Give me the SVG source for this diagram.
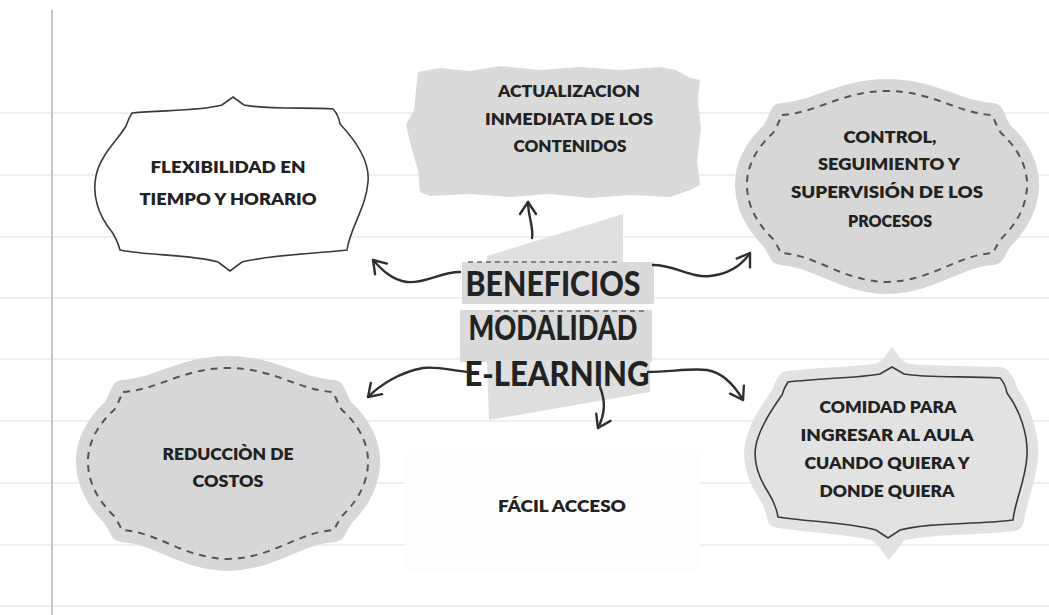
<svg xmlns="http://www.w3.org/2000/svg" xmlns:xlink="http://www.w3.org/1999/xlink" width="1049" height="615" viewBox="0 0 1049 615">
  <style>
    .rule { stroke: #efefef; stroke-width: 2; }
    .margin { stroke: #c4c4c4; stroke-width: 2; }
    .lbl { font-family: Lato, "Open Sans", "Liberation Sans", sans-serif; font-weight: 800; font-size: 16.5px; fill: #222; text-anchor: middle; }
    .title { font-family: Lato, "Open Sans", "Liberation Sans", sans-serif; font-weight: 900; font-size: 34px; fill: #222; text-anchor: middle; }
    .conn { fill: none; stroke: #2e2e2e; stroke-width: 2.4; stroke-linecap: round; stroke-linejoin: round; }
    .dash { fill: none; stroke: #555; stroke-width: 2; stroke-dasharray: 7 6; }
    .tape-dash { fill: none; stroke: #6a6a6a; stroke-width: 1.6; stroke-dasharray: 5 4; }
    .grayframe { fill: #d7d7d7; stroke: #d7d7d7; stroke-width: 24; stroke-linejoin: round; }
  </style>
  <defs>
    <path id="scallop" d="M -105,-72 C -70,-74 -45,-96 0,-96 C 45,-96 70,-74 105,-72 C 108,-66 110,-60 114,-54 C 132,-38 141,-18 140,0 C 139,22 128,38 114,52 C 110,58 108,62 106,66 C 70,68 45,94 0,95 C -45,94 -70,68 -106,66 C -108,62 -110,58 -114,52 C -128,38 -139,22 -140,0 C -141,-18 -132,-38 -114,-54 C -110,-60 -108,-66 -105,-72 Z"/>
    <marker id="head" markerUnits="userSpaceOnUse" markerWidth="20" markerHeight="20" viewBox="-14 -10 16 20" refX="0" refY="0" orient="auto">
      <path d="M -12,-8 L 0,0 L -12,8" fill="none" stroke="#2e2e2e" stroke-width="2.4" stroke-linecap="round" stroke-linejoin="round"/>
    </marker>
  </defs>

  <rect x="0" y="0" width="1049" height="615" fill="#ffffff"/>
  <g id="paper">
    <line class="rule" x1="0" y1="113" x2="1049" y2="113"/>
    <line class="rule" x1="0" y1="175" x2="1049" y2="175"/>
    <line class="rule" x1="0" y1="237" x2="1049" y2="237"/>
    <line class="rule" x1="0" y1="298" x2="1049" y2="298"/>
    <line class="rule" x1="0" y1="359" x2="1049" y2="359"/>
    <line class="rule" x1="0" y1="421" x2="1049" y2="421"/>
    <line class="rule" x1="0" y1="483" x2="1049" y2="483"/>
    <line class="rule" x1="0" y1="545" x2="1049" y2="545"/>
    <line class="rule" x1="0" y1="606" x2="1049" y2="606"/>
    <line class="margin" x1="52" y1="10" x2="52" y2="615"/>
  </g>

  <g id="node-flexibilidad">
    <path d="M132,113 C165,110 200,111 222,105 L233,97 L244,105 C270,110 305,107 333,109 C337,113 339,118 340,124 C357,142 370,162 368,182 C366,208 350,228 347,250 C315,254 275,254 242,262 L230,271 L218,262 C190,254 150,256 120,250 C118,243 116,238 112,232 C98,215 92,195 96,176 C100,155 118,140 126,126 C128,120 130,116 132,113 Z" fill="#ffffff" stroke="#3a3a3a" stroke-width="1.6"/>
    <text class="lbl" x="228" y="173" textLength="155" lengthAdjust="spacingAndGlyphs">FLEXIBILIDAD EN</text>
    <text class="lbl" x="228" y="205" textLength="177" lengthAdjust="spacingAndGlyphs">TIEMPO Y HORARIO</text>
  </g>

  <g id="node-actualizacion">
    <path d="M418,72 L440,68 L470,71 L500,66 L540,70 L580,67 L620,70 L660,67 L676,70 L690,78 L700,80 L698,100 L701,130 L697,160 L700,185 L690,190 L670,197 L630,195 L590,198 L550,194 L510,197 L470,194 L430,196 L420,192 L418,170 L412,150 L406,125 L414,110 L416,90 Z" fill="#dadada"/>
    <text class="lbl" x="569" y="97" textLength="142" lengthAdjust="spacingAndGlyphs">ACTUALIZACION</text>
    <text class="lbl" x="569" y="125" textLength="168" lengthAdjust="spacingAndGlyphs">INMEDIATA DE LOS</text>
    <text class="lbl" x="570" y="152" textLength="113" lengthAdjust="spacingAndGlyphs">CONTENIDOS</text>
  </g>

  <g id="node-control">
    <use xlink:href="#scallop" href="#scallop" class="grayframe" transform="translate(887,187)"/>
    <use xlink:href="#scallop" href="#scallop" class="dash" transform="translate(887,187)"/>
    <text class="lbl" x="890" y="143" textLength="93" lengthAdjust="spacingAndGlyphs">CONTROL,</text>
    <text class="lbl" x="889" y="170" textLength="142" lengthAdjust="spacingAndGlyphs">SEGUIMIENTO Y</text>
    <text class="lbl" x="887" y="198" textLength="192" lengthAdjust="spacingAndGlyphs">SUPERVISIÓN DE LOS</text>
    <text class="lbl" x="890" y="227" textLength="84" lengthAdjust="spacingAndGlyphs">PROCESOS</text>
  </g>

  <g id="node-center">
    <path d="M487,256 L623,214 L623,262 L487,262 Z" fill="#e0e0e0"/>
    <rect x="462" y="262" width="192" height="42" fill="#dadada"/>
    <rect x="460" y="310" width="192" height="52" fill="#dadada"/>
    <path d="M487,360 L650,360 L650,392 L489,420 Z" fill="#dedede"/>
    <line class="tape-dash" x1="468" y1="262" x2="618" y2="262"/>
    <line class="tape-dash" x1="495" y1="311" x2="648" y2="311"/>
    <text class="title" x="553" y="296" textLength="175" lengthAdjust="spacingAndGlyphs">BENEFICIOS</text>
    <text class="title" x="553" y="340" textLength="169" lengthAdjust="spacingAndGlyphs">MODALIDAD</text>
    <text class="title" x="557" y="386" textLength="185" lengthAdjust="spacingAndGlyphs">E-LEARNING</text>
  </g>

  <g id="node-reduccion">
    <use xlink:href="#scallop" href="#scallop" class="grayframe" transform="translate(228,464)"/>
    <use xlink:href="#scallop" href="#scallop" class="dash" transform="translate(228,464)"/>
    <text class="lbl" x="228" y="460" textLength="131" lengthAdjust="spacingAndGlyphs">REDUCCIÒN DE</text>
    <text class="lbl" x="228" y="487" textLength="71" lengthAdjust="spacingAndGlyphs">COSTOS</text>
  </g>

  <g id="node-facil">
    <rect x="405" y="450" width="295" height="122" fill="#fdfdfd"/>
    <text class="lbl" x="562" y="512" textLength="128" lengthAdjust="spacingAndGlyphs">FÁCIL ACCESO</text>
  </g>

  <g id="node-comidad">
    <path d="M788,382 C820,378 860,378 880,374 L892,367 L904,374 C925,378 965,376 1000,378 C1004,382 1006,388 1007,393 C1020,410 1028,435 1027,455 C1026,480 1015,500 1013,520 C975,525 930,522 900,530 L888,538 L876,530 C845,522 810,522 778,517 C776,505 772,498 768,492 C757,475 753,460 756,445 C760,425 775,405 782,395 C784,388 786,385 788,382 Z" fill="#e2e2e2" stroke="#e2e2e2" stroke-width="22" stroke-linejoin="round"/>
    <path d="M879,364 L892,347 L905,364 Z" fill="#e2e2e2"/>
    <path d="M875,542 L889,560 L903,542 Z" fill="#e2e2e2"/>
    <path d="M788,382 C820,378 860,378 880,374 L892,367 L904,374 C925,378 965,376 1000,378 C1004,382 1006,388 1007,393 C1020,410 1028,435 1027,455 C1026,480 1015,500 1013,520 C975,525 930,522 900,530 L888,538 L876,530 C845,522 810,522 778,517 C776,505 772,498 768,492 C757,475 753,460 756,445 C760,425 775,405 782,395 C784,388 786,385 788,382 Z" fill="none" stroke="#3a3a3a" stroke-width="1.6"/>
    <text class="lbl" x="888" y="413" textLength="137" lengthAdjust="spacingAndGlyphs">COMIDAD PARA</text>
    <text class="lbl" x="887" y="441" textLength="173" lengthAdjust="spacingAndGlyphs">INGRESAR AL AULA</text>
    <text class="lbl" x="887" y="469" textLength="165" lengthAdjust="spacingAndGlyphs">CUANDO QUIERA Y</text>
    <text class="lbl" x="887" y="497" textLength="135" lengthAdjust="spacingAndGlyphs">DONDE QUIERA</text>
  </g>

  <g id="connectors">
    <path class="conn" marker-end="url(#head)" d="M532,238 C534,228 528,216 528,202"/>
    <path class="conn" marker-end="url(#head)" d="M460,272 C440,272 425,284 407,282 C392,280 382,270 373,260"/>
    <path class="conn" marker-end="url(#head)" d="M653,265 C675,265 690,278 710,276 C728,274 742,265 750,253"/>
    <path class="conn" marker-end="url(#head)" d="M468,372 C450,370 435,366 423,368 C400,372 380,385 368,397"/>
    <path class="conn" marker-end="url(#head)" d="M648,372 C670,372 690,368 707,370 C725,373 736,388 743,400"/>
    <path class="conn" marker-end="url(#head)" d="M600,387 C605,400 606,412 598,428"/>
  </g>
</svg>
